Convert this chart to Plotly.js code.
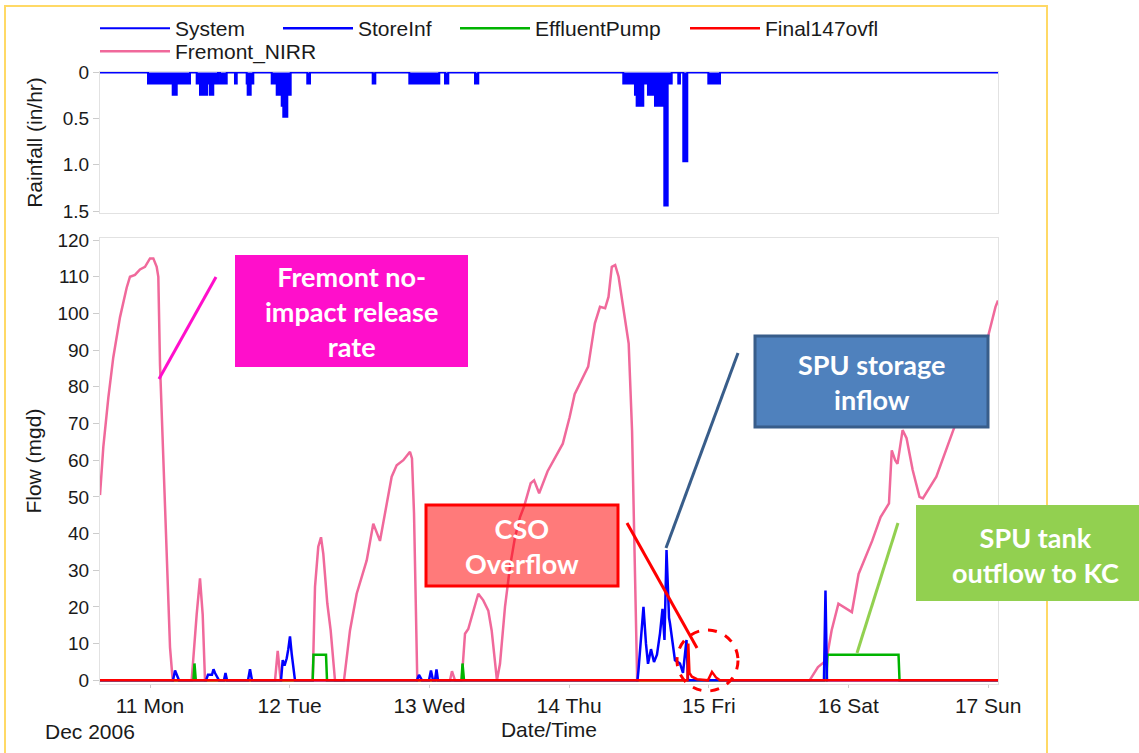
<!DOCTYPE html>
<html><head><meta charset="utf-8">
<script src="https://cdn.plot.ly/plotly-3.0.1.min.js"></script>
<style>html,body{margin:0;padding:0;background:#fff;} #chart{width:1139px;height:753px;}</style>
</head><body><div id="chart"></div>
<script>
// All times are hours after 2006-12-10 00:00
const rainHour = [15.41,23.66,27.9,28.59,30.87,32.02,32.59,33.84,34.31,34.87,35.68,36.03,37.18,38.6,38.9,40.61,40.78,41.3,41.75,44.91,45.77,46.63,46.9,47.59,48.17,51.02,51.49,62.26,62.71,68.55,73.7,74.68,75.25,79.84,80.4,105.31,107.32,107.61,108.75,109.55,109.67,109.9,110.76,112.19,112.36,112.94,113.63,114.76,115.05,115.62,116.31,119.92,121.93,169.69];
const rainVal = [0,0.12,0.24,0.12,0,0.12,0.24,0.12,0.24,0.12,0,0.12,0,0.12,0,0.12,0.24,0.12,0,0.12,0.24,0.36,0.48,0.24,0,0.12,0,0.12,0,0.12,0,0.12,0,0.12,0,0.12,0.24,0.36,0.12,0.24,0.12,0.24,0.36,0.24,1.44,0.12,0,0.12,0,0.96,0,0.12,0,0];

const nirrHour = [15.41,15.98,16.84,17.69,18.85,19.99,20.56,21.42,22.28,23.14,24.0,24.57,25.15,25.43,25.72,26.28,26.87,27.44,27.9,
 31.16,32.02,32.59,33.05,33.45,
 45.48,45.94,46.45,
 51.95,52.35,52.91,53.38,53.77,54.46,55.04,55.78,
 57.33,58.36,59.51,61.23,62.36,63.51,64.37,65.52,66.38,67.52,68.67,69.01,69.36,69.58,69.92,
 75.54,75.88,76.4,
 77.55,78.12,78.68,79.27,80.4,81.26,82.12,82.7,83.27,83.61,
 84.13,84.99,85.85,86.71,87.57,88.25,89.4,89.99,90.86,92.31,94.92,96.09,96.96,98.11,99.28,100.43,101.31,102.19,102.77,103.34,103.92,104.51,105.67,106.24,106.82,107.29,107.7,
 137.32,138.76,140.22,141.1,142.27,143.13,144.59,145.74,148.07,149.52,150.96,151.44,152.02,152.42,153.3,153.98,155.03,156.2,156.78,159.1,162.01,165.5,167.82,169.26,169.69];
const nirrVal = [50.5,63.6,77,88,99,107,110,110.5,112,112.7,115,115,112.7,110,86,59,32,9,0,
 0,18,27.8,18,0,
 0,8,0,
 0,25.5,36.4,39,34.5,21,13.6,0,
 0,13.6,23.6,32.7,42.7,38,45.5,55.5,58.6,60,62.3,60.5,45.5,22.7,0,
 0,2.5,0,
 0,12.7,14,17.3,23.6,21.8,19,13.6,4.5,0,
 4.5,20,31,39,44.5,47.3,53.7,54.5,51,57,64.5,71.7,78,81.8,85.5,97.3,101.8,101.4,104.5,112.7,113.2,110,98.2,91.8,68,31.8,0,
 0,3.6,5.5,13.6,20.9,20,18.6,29,38,44.5,48.2,62.7,60,59,68.2,66,57.3,50,49.6,55.5,68.2,82.7,92.7,101.8,103.5];

const storeHour = [15.41,27.95,28.3,28.64,28.98,33.62,33.96,34.65,34.91,35.17,35.68,35.85,36.71,36.97,37.23,40.84,41.18,41.52,46.51,46.8,47.11,47.49,47.76,48.05,48.34,48.74,48.91,69.87,70.21,70.73,71.93,72.27,72.62,72.96,73.22,73.48,107.75,107.92,108.78,109.21,109.56,110.07,110.59,111.1,111.62,112.05,112.39,112.74,113.17,113.34,114.19,115.05,115.57,116.17,116.43,139.79,140.05,140.31,169.69];
const storeVal = [0,0,2.7,1.5,0,0,1.5,1.5,3,2,0.5,0,0,2,0,0,3,0,0,5.5,4,6,8.5,12,7.3,1.8,0,0,1.5,0,0,2.7,0,0,3,0,0,2.7,20,10,4.5,8.5,5,7,12.8,19.5,11,35.5,17,15.5,5.5,4.6,2,11,0,0,24.5,0,0];

const effHour = [15.41,31.47,31.64,31.87,51.95,52.09,54.24,54.41,77.52,77.69,77.95,140.23,140.4,152.6,152.77,169.69];
const effVal = [0,0,4.6,0,0,7,7,0,0,4.6,0,0,7,7,0,0];

const ovflHour = [15.41,116.34,116.48,116.68,117.11,117.97,119.86,120.55,121.24,121.92,169.69];
const ovflVal = [0,0,10,2,1,0.3,0,2.3,0.8,0,0];

const dayTicks = ['2006-12-11','2006-12-12','2006-12-13','2006-12-14','2006-12-15','2006-12-16','2006-12-17'];
const dayLabels = ['11 Mon','12 Tue','13 Wed','14 Thu','15 Fri','16 Sat','17 Sun'];
const flowTicks = [0,10,20,30,40,50,60,70,80,90,100,110,120];
const rainTicks = [0,0.5,1.0,1.5];
const rainTickText = ['0','0.5','1.0','1.5'];

const T0 = Date.UTC(2006, 11, 10);
function toDate(h){ return new Date(T0 + Math.round(h*3600000)).toISOString().slice(0,19).replace('T',' '); }

// pixel -> paper / container helpers for decorations
const W = 1139, H = 753;
const X0 = 100, X1 = 998, YB = 684, YT = 72;
const px = X => (X - X0) / (X1 - X0);
const py = Y => (YB - Y) / (YB - YT);
const cx = X => X / W;
const cy = Y => 1 - Y / H;

const FONT = 'Liberation Sans, Arial, sans-serif';
const BOXFONT = 'Lato, Open Sans, sans-serif';

const traces = [
  {x: rainHour.map(toDate), y: rainVal, xaxis:'x2', yaxis:'y2', type:'scatter', mode:'lines',
   line:{shape:'hv', width:0, color:'#0000FF'}, fill:'tozeroy', fillcolor:'#0000FF', showlegend:false, hoverinfo:'skip'},
  {name:'System', x: rainHour.map(toDate), y: rainVal, xaxis:'x2', yaxis:'y2', type:'scatter', mode:'lines',
   line:{shape:'hv', width:2, color:'#0000FF'}, legend:'legend', legendrank:1, legendwidth:98},
  {name:'Fremont_NIRR', x: nirrHour.map(toDate), y: nirrVal, type:'scatter', mode:'lines',
   line:{color:'#F0699B', width:2.5}, legend:'legend2'},
  {name:'EffluentPump', x: effHour.map(toDate), y: effVal, type:'scatter', mode:'lines',
   line:{color:'#00B400', width:2.5}, legend:'legend', legendrank:3, legendwidth:145},
  {name:'StoreInf', x: storeHour.map(toDate), y: storeVal, type:'scatter', mode:'lines',
   line:{color:'#0000FF', width:2.5}, legend:'legend', legendrank:2, legendwidth:92},
  {name:'Final147ovfl', x: ovflHour.map(toDate), y: ovflVal, type:'scatter', mode:'lines',
   line:{color:'#FF0000', width:2.5}, legend:'legend', legendrank:4, legendwidth:140}
];

function seg(xa, ya, xb, yb, color){
  return {type:'line', xref:'paper', yref:'paper', x0:px(xa), y0:py(ya), x1:px(xb), y1:py(yb), line:{color:color, width:3}};
}
function box(xa, ya, xb, yb, fill, lcolor, lw){
  return {type:'rect', xref:'paper', yref:'paper', x0:px(xa), y0:py(yb), x1:px(xb), y1:py(ya), fillcolor:fill, line:{color:lcolor, width:lw}};
}

const shapes = [
  {type:'rect', xref:'paper', yref:'paper', x0:px(5), x1:px(1047), y0:py(765), y1:py(6), line:{color:'#FFD966', width:2}, fillcolor:'rgba(0,0,0,0)'},
  box(235,255,468,367,'#FF0FCB','rgba(0,0,0,0)',0),
  seg(216,277,159,379,'#FF0FCB'),
  box(426,505,618,586,'rgba(255,0,0,0.52)','#FF0000',3),
  seg(627,523,697,648,'#FF0000'),
  box(755,336,988,427,'#4F81BD','#385D8A',3),
  seg(738,353,666,548,'#385D8A'),
  box(916,505,1150,601,'#92D050','rgba(0,0,0,0)',0),
  seg(898,523,857,653,'#92D050'),
  {type:'circle', xref:'paper', yref:'paper', x0:px(677), x1:px(738), y0:py(691), y1:py(630), line:{color:'#FF0000', width:3, dash:'dash'}}
];

function label(text, X, Y){
  return {xref:'paper', yref:'paper', x:px(X), y:py(Y), text:'<b>'+text+'</b>', showarrow:false,
          font:{family:BOXFONT, size:27, color:'#FFFFFF'}, align:'center', xanchor:'center', yanchor:'middle'};
}

const annotations = [
  label('Fremont no-<br>impact release<br>rate', 351.5, 311),
  label('CSO<br>Overflow', 522, 545.5),
  label('SPU storage<br>inflow', 871, 382),
  label('SPU tank<br>outflow to KC', 1035, 555),
  {xref:'paper', yref:'paper', x:px(43), y:py(731), text:'Dec 2006', showarrow:false, xanchor:'left', yanchor:'middle',
   font:{family:FONT, size:21, color:'#1a1a1a'}}
];

const axisCommon = {showgrid:false, zeroline:false, showline:true, linecolor:'#e2e2e2', linewidth:1, mirror:true};

const layout = {
  width:W, height:H,
  margin:{l:100, r:141, t:72, b:69},
  paper_bgcolor:'#ffffff', plot_bgcolor:'#ffffff',
  font:{family:FONT, size:19, color:'#1a1a1a'},
  showlegend:true,
  xaxis: Object.assign({}, axisCommon, {type:'date', anchor:'y', domain:[0,1],
    range:[toDate(15.41), toDate(169.69)], tickvals:dayTicks, ticktext:dayLabels,
    ticks:'outside', ticklen:3, tickcolor:'#cccccc', tickfont:{size:21},
    title:{text:'Date/Time', standoff:6, font:{size:21}}}),
  xaxis2: Object.assign({}, axisCommon, {type:'date', anchor:'y2', matches:'x', showticklabels:false, ticks:''}),
  yaxis: Object.assign({}, axisCommon, {domain:[0,0.7284], range:[-1,120.5], tickvals:flowTicks,
    ticks:'outside', ticklen:6, tickcolor:'#cccccc', tickfont:{size:19},
    title:{text:'Flow (mgd)', standoff:10, font:{size:21}}}),
  yaxis2: Object.assign({}, axisCommon, {domain:[0.7696,1], range:[1.5217,-0.0054], tickvals:rainTicks, ticktext:rainTickText,
    ticks:'outside', ticklen:6, tickcolor:'#cccccc', tickfont:{size:19},
    title:{text:'Rainfall (in/hr)', standoff:14, font:{size:21}}}),
  legend:{orientation:'h', xref:'container', yref:'container', x:cx(95), xanchor:'left', y:cy(8), yanchor:'top',
    font:{size:21, family:FONT}, itemwidth:70, bgcolor:'rgba(0,0,0,0)', traceorder:'normal'},
  legend2:{orientation:'h', xref:'container', yref:'container', x:cx(95), xanchor:'left', y:cy(31), yanchor:'top',
    font:{size:21, family:FONT}, itemwidth:70, bgcolor:'rgba(0,0,0,0)'},
  shapes:shapes,
  annotations:annotations
};

Plotly.newPlot('chart', traces, layout, {displayModeBar:false, staticPlot:true});
</script>
</body></html>
